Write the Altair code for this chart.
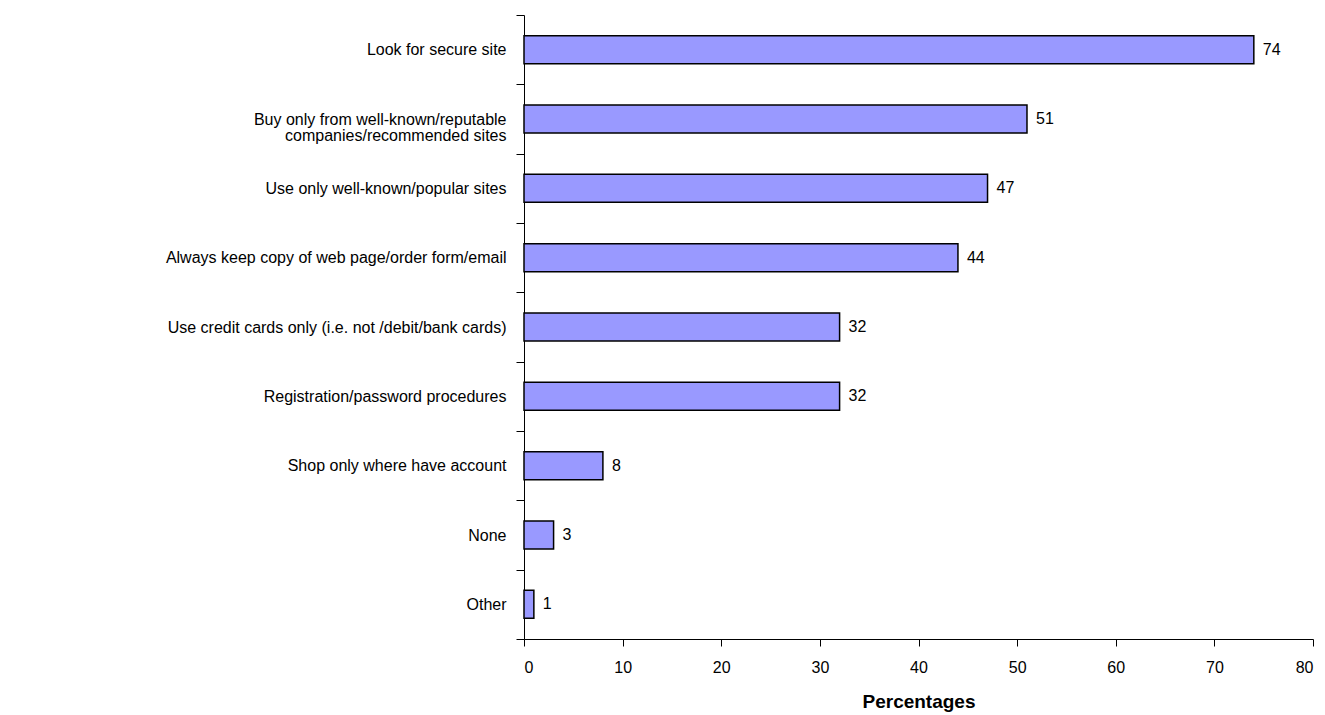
import altair as alt
import pandas as pd

categories = [
    "Look for secure site",
    "Buy only from well-known/reputable\ncompanies/recommended sites",
    "Use only well-known/popular sites",
    "Always keep copy of web page/order form/email",
    "Use credit cards only (i.e. not /debit/bank cards)",
    "Registration/password procedures",
    "Shop only where have account",
    "None",
    "Other",
]
values = [74, 51, 47, 44, 32, 32, 8, 3, 1]

df = pd.DataFrame({"cat": categories, "val": values})

FONT = "Liberation Sans"

y_enc = alt.Y(
    "cat:N",
    sort=categories,
    scale=alt.Scale(paddingInner=0, paddingOuter=0),
    axis=alt.Axis(
        title=None,
        tickBand="extent",
        tickSize=8,
        labelPadding=10,
        labelFontSize=16,
        labelFont=FONT,
        labelColor="black",
        labelExpr="split(datum.label, '\\n')",
        labelLimit=600,
        domainColor="black",
        tickColor="black",
        labelLineHeight=16,
    ),
)

base = alt.Chart(df)

bars = base.mark_bar(color="#9999FF", stroke="black", strokeWidth=1.5, size=28).encode(
    y=y_enc,
    x=alt.X(
        "val:Q",
        scale=alt.Scale(domain=[0, 80], nice=False),
        axis=alt.Axis(
            title="Percentages",
            values=[0, 10, 20, 30, 40, 50, 60, 70, 80],
            grid=False,
            tickSize=7,
            labelPadding=13,
            labelFontSize=16,
            labelFont=FONT,
            labelColor="black",
            titleFont=FONT,
            titleFontSize=19,
            titleFontWeight="bold",
            titleColor="black",
            titlePadding=17,
            domainColor="black",
            tickColor="black",
        ),
    ),
)

text = base.mark_text(align="left", dx=9, fontSize=16, font=FONT, color="black").encode(
    y=alt.Y("cat:N", sort=categories),
    x=alt.X("val:Q"),
    text=alt.Text("val:Q"),
)

chart = (
    (bars + text)
    .properties(
        width=789,
        height=624,
        autosize=alt.AutoSizeParams(type="none"),
        padding={"left": 524, "top": 15, "right": 12, "bottom": 76},
        background="white",
    )
    .configure_view(stroke=None, strokeWidth=0)
)

chart.save("out.html", embed_options={"renderer": "svg", "actions": False})
